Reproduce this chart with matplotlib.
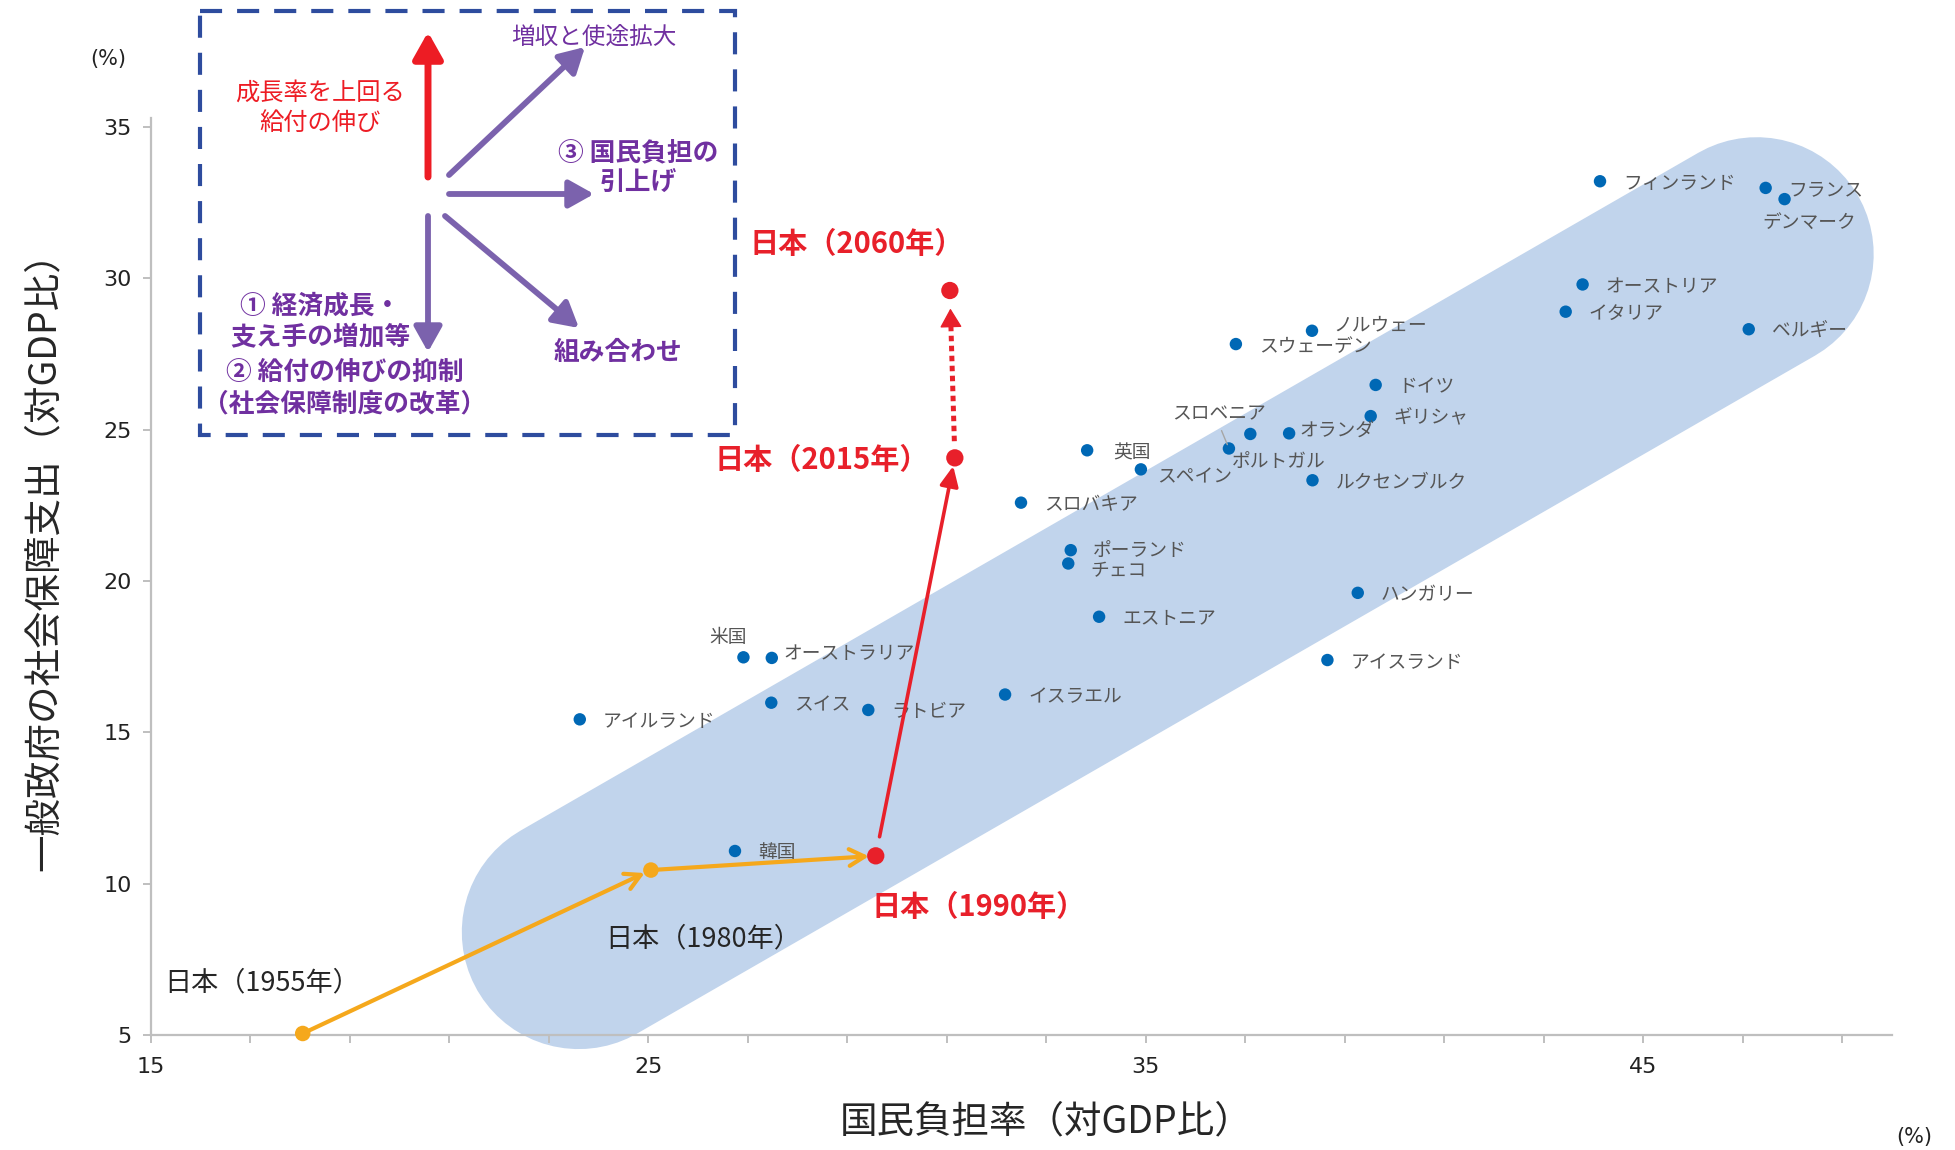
import matplotlib
matplotlib.use('Agg')
import matplotlib.pyplot as plt
from matplotlib.patches import Rectangle

plt.rcParams['font.family'] = ['Noto Sans CJK JP', 'DejaVu Sans']

# OECD countries: national burden rate vs social security spending (% of GDP)
countries = ['フィンランド', 'フランス', 'デンマーク', 'オーストリア', 'イタリア', 'ベルギー',
             'ノルウェー', 'スウェーデン', 'ドイツ', 'ギリシャ', 'スロベニア', 'オランダ',
             'ポルトガル', '英国', 'スペイン', 'ルクセンブルク', 'スロバキア', 'ポーランド',
             'チェコ', 'ハンガリー', 'エストニア', 'アイスランド', '米国', 'オーストラリア',
             'スイス', 'ラトビア', 'イスラエル', 'アイルランド', '韓国']
burden = [44.13, 47.46, 47.84, 43.78, 43.44, 47.12,
          38.34, 36.81, 39.62, 39.52, 36.67, 37.88,
          37.10, 33.82, 34.90, 38.35, 32.49, 33.49,
          33.44, 39.26, 34.06, 38.65, 26.91, 27.48,
          27.47, 29.42, 32.17, 23.62, 26.74]
social = [33.21, 32.99, 32.62, 29.80, 28.90, 28.32,
          28.27, 27.83, 26.48, 25.45, 24.38, 24.88,
          24.86, 24.32, 23.69, 23.33, 22.59, 21.02,
          20.58, 19.61, 18.82, 17.39, 17.48, 17.46,
          15.98, 15.74, 16.25, 15.43, 11.08]

# Japan over time
japan_years = ['1955', '1980', '1990', '2015', '2060']
japan_x = [18.05, 25.05, 29.57, 31.16, 31.06]
japan_y = [5.05, 10.45, 10.92, 24.07, 29.60]

# centre line of the shaded band
band_x = [23.60, 47.28]
band_y = [8.40, 30.80]

xticks = list(range(15, 51, 2))
xlabels = ['15', '25', '35', '45']
yticks = [5, 10, 15, 20, 25, 30, 35]

BLUE = '#0068b5'
RED = '#e8202a'
ORANGE = '#f5a81c'
GRAY = '#555555'
PURPLE = '#7030a0'
ARROWP = '#7b62ad'
AXC = '#bfbfbf'

fig = plt.figure(figsize=(19.55, 11.5), dpi=100)
ax = fig.add_axes([151 / 1955, 115 / 1150, 1741 / 1955, 917 / 1150])
ax.set_xlim(15, 50)
ax.set_ylim(5, 35.3)

for s in ['top', 'right']:
    ax.spines[s].set_visible(False)
for s in ['left', 'bottom']:
    ax.spines[s].set_color(AXC)
    ax.spines[s].set_linewidth(1.6)
    ax.spines[s].set_zorder(2)

ax.set_xticks(xticks)
ax.set_xticklabels([str(t) if str(t) in xlabels else '' for t in xticks])
ax.set_yticks(yticks)
ax.tick_params(axis='both', colors=AXC, length=6, width=1.4, labelsize=16,
               labelcolor='#222222', labelfontfamily='DejaVu Sans')
ax.tick_params(axis='x', pad=10)
ax.tick_params(axis='y', pad=8)

# shaded band (thick line with round caps)
ax.plot(band_x, band_y, lw=168.5, solid_capstyle='round', color='#c1d4ec',
        zorder=0.5, clip_on=False)

# countries
ax.scatter(burden, social, s=80, color=BLUE, edgecolors='none', zorder=4)

# label offsets in pixels (dx right, dy down), default to the right
offsets = {
    'デンマーク': (-22, 23),
    'ノルウェー': (21, -6),
    'オランダ': (10, -2),
    'スロベニア': (-57, -35),
    'ポルトガル': (-18, 28),
    '英国': (26, 3),
    'スペイン': (16, 7),
    'チェコ': (22, 7),
    'ポーランド': (22, 0),
    'オーストラリア': (12, -4),
}


def pts(dx, dy):
    return (dx * 0.72, -dy * 0.72)


for i, (name, x, y) in enumerate(zip(countries, burden, social)):
    dx, dy = offsets.get(name, (23, 2))
    if name == 'オーストラリア' and i == 3:
        dx, dy = (24, 2)
    ha = 'left'
    if name == '米国':
        dx, dy, ha = (-15, -20, 'center')
    if name == 'スロベニア':
        ax.annotate(name, (x, y), xytext=pts(dx, dy), textcoords='offset points',
                    ha=ha, va='center', fontsize=13.5, color=GRAY, zorder=5,
                    arrowprops=dict(arrowstyle='-', color='#a6a6a6', lw=1,
                                    shrinkA=3, shrinkB=3, relpos=(0.5, 0)))
    else:
        ax.annotate(name, (x, y), xytext=pts(dx, dy), textcoords='offset points',
                    ha=ha, va='center', fontsize=13.5, color=GRAY, zorder=5)

# Japan path
for i in range(2):
    ax.annotate('', xy=(japan_x[i + 1], japan_y[i + 1]), xytext=(japan_x[i], japan_y[i]),
                arrowprops=dict(arrowstyle='->,head_length=0.55,head_width=0.3',
                                color=ORANGE, lw=3, shrinkA=0, shrinkB=5,
                                mutation_scale=20), zorder=5)
ax.annotate('', xy=(japan_x[3], japan_y[3]), xytext=(japan_x[2], japan_y[2]),
            arrowprops=dict(arrowstyle='-|>,head_length=0.6,head_width=0.28',
                            color=RED, lw=2.6, shrinkA=14, shrinkB=6,
                            mutation_scale=20), zorder=5)
ax.annotate('', xy=(japan_x[4], japan_y[4]), xytext=(japan_x[3], japan_y[3]),
            arrowprops=dict(arrowstyle='-', color=RED, lw=3.6, shrinkA=12, shrinkB=24,
                            linestyle=(0, (1.1, 0.9)), capstyle='butt'), zorder=5)
ax.annotate('', xy=(japan_x[4], japan_y[4]), xytext=(japan_x[3], japan_y[3]),
            arrowprops=dict(arrowstyle='-|>,head_length=0.6,head_width=0.35',
                            color=RED, lw=1, shrinkA=95, shrinkB=13,
                            mutation_scale=20), zorder=5)

ax.scatter(japan_x[:2], japan_y[:2], s=125, color=ORANGE, edgecolors='none',
           zorder=6, clip_on=False)
ax.scatter(japan_x[2:], japan_y[2:], s=155, color=RED, edgecolors='none', zorder=6)

jp_labels = ['日本（%s年）' % yr for yr in japan_years]
jp_style = [
    ((-138, -51), '#262626', 'normal', 19.5),
    ((-46, 69), '#262626', 'normal', 19.5),
    ((-4, 51), RED, 'bold', 21),
    ((-240, 2), RED, 'bold', 21),
    ((-200, -47), RED, 'bold', 21),
]
for lab, x, y, (off, c, w, fs) in zip(jp_labels, japan_x, japan_y, jp_style):
    ax.annotate(lab, (x, y), xytext=pts(*off), textcoords='offset points',
                ha='left', va='center', fontsize=fs, color=c, fontweight=w, zorder=7)

# axis titles and units
fig.text(44 / 1955, 1 - 552 / 1150, '一般政府の社会保障支出（対GDP比）', rotation=90,
         ha='center', va='center', fontsize=27, color='#262626')
fig.text(1046 / 1955, 1 - 1122 / 1150, '国民負担率（対GDP比）', ha='center', va='center',
         fontsize=27, color='#262626')
fig.text(108 / 1955, 1 - 59 / 1150, '(%)', ha='center', va='center', fontsize=15,
         color='#222222', family='DejaVu Sans')
fig.text(1914 / 1955, 1 - 1137 / 1150, '(%)', ha='center', va='center', fontsize=15,
         color='#222222', family='DejaVu Sans')

# inset diagram in pixel space
ov = fig.add_axes([0, 0, 1, 1], zorder=10)
ov.set_xlim(0, 1955)
ov.set_ylim(1150, 0)
ov.axis('off')
ov.patch.set_alpha(0)

ov.add_patch(Rectangle((200, 11), 535, 424, fill=False, edgecolor='#2e4c9e', lw=3,
                       linestyle=(0, (5.3, 3.6))))

ov.annotate('', xy=(428, 32), xytext=(428, 177),
            arrowprops=dict(arrowstyle='-|>,head_length=0.8,head_width=0.45', color='#ed1c24',
                            lw=5, shrinkA=0, shrinkB=0, mutation_scale=20))
for (x0, y0), (x1, y1) in [((449, 175), (585, 47)), ((449, 194), (594, 194)),
                           ((445, 216), (579, 328)), ((428, 216), (428, 352))]:
    ov.annotate('', xy=(x1, y1), xytext=(x0, y0),
                arrowprops=dict(arrowstyle='-|>,head_length=0.75,head_width=0.42',
                                color=ARROWP, lw=4.2, shrinkA=0, shrinkB=0,
                                mutation_scale=20))

ov.text(594, 37, '増収と使途拡大', ha='center', va='center', fontsize=17, color=PURPLE)
ov.text(320, 108, '成長率を上回る\n給付の伸び', ha='center', va='center', fontsize=17.5,
        color='#ed1c24', linespacing=1.2)
ov.text(638, 168, '③ 国民負担の\n引上げ', ha='center', va='center', fontsize=18.5,
        color=PURPLE, fontweight='bold', linespacing=1.15)
ov.text(320, 322, '① 経済成長・\n支え手の増加等', ha='center', va='center', fontsize=18.5,
        color=PURPLE, fontweight='bold', linespacing=1.2)
ov.text(345, 388, '② 給付の伸びの抑制\n（社会保障制度の改革）', ha='center', va='center',
        fontsize=18.5, color=PURPLE, fontweight='bold', linespacing=1.2)
ov.text(618, 352, '組み合わせ', ha='center', va='center', fontsize=18.5, color=PURPLE,
        fontweight='bold')

fig.savefig('out.png', dpi=100)
